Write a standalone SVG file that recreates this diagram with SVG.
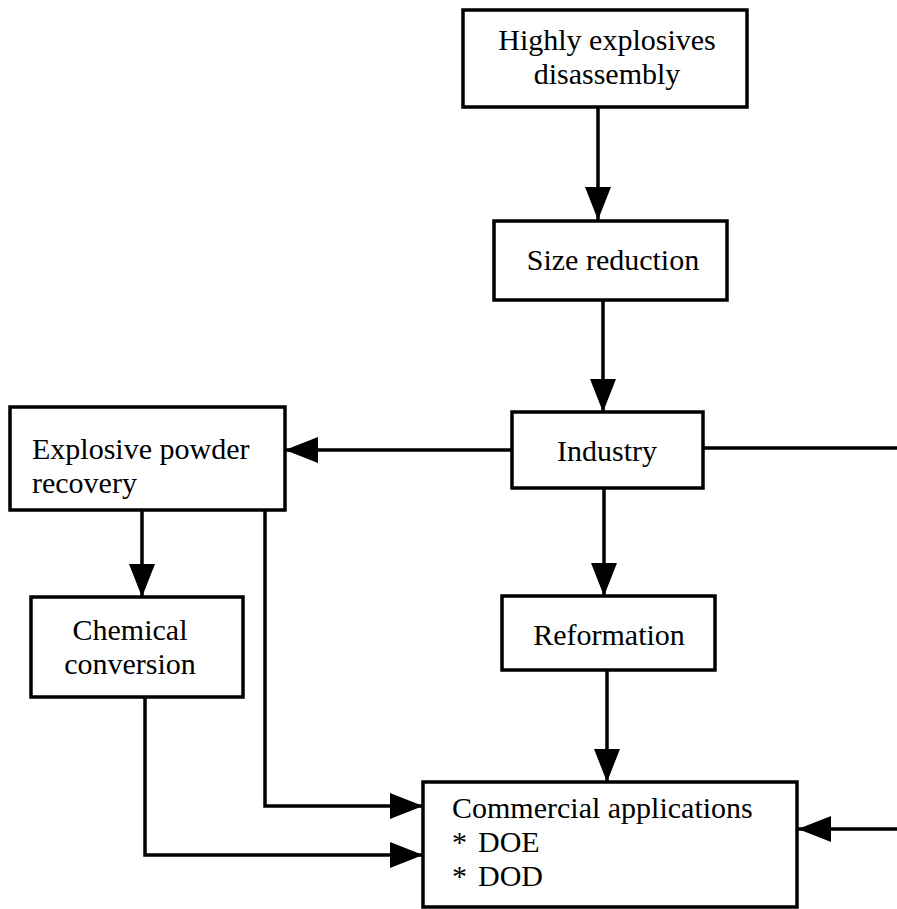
<svg xmlns="http://www.w3.org/2000/svg" width="897" height="909" viewBox="0 0 897 909">
<style>
.box{fill:#fff;stroke:#000;stroke-width:3.5}
.t{font-family:"Liberation Serif","Times New Roman",serif;font-size:30px;fill:#000}
.c{text-anchor:middle}
.ln{fill:none;stroke:#000;stroke-width:3.5}
</style>
<defs>
<marker id="ah" markerUnits="userSpaceOnUse" markerWidth="34" markerHeight="26" refX="33" refY="13" orient="auto">
<path d="M0,0 L33,13 L0,26 z" fill="#000"/>
</marker>
</defs>
<rect width="897" height="909" fill="#fff"/>
<g id="connectors">
<line class="ln" x1="598" y1="107" x2="598" y2="220" marker-end="url(#ah)"/>
<line class="ln" x1="603" y1="300" x2="603" y2="412" marker-end="url(#ah)"/>
<line class="ln" x1="512" y1="450" x2="285" y2="450" marker-end="url(#ah)"/>
<line class="ln" x1="703" y1="448" x2="897" y2="448"/>
<line class="ln" x1="897" y1="829" x2="798" y2="829" marker-end="url(#ah)"/>
<line class="ln" x1="604" y1="488" x2="604" y2="596" marker-end="url(#ah)"/>
<line class="ln" x1="142" y1="510" x2="142" y2="597" marker-end="url(#ah)"/>
<polyline class="ln" points="265,510 265,806 423,806" marker-end="url(#ah)"/>
<polyline class="ln" points="145,697 145,855 423,855" marker-end="url(#ah)"/>
<line class="ln" x1="607" y1="670" x2="607" y2="782" marker-end="url(#ah)"/>
</g>
<g id="n-disassembly">
<rect class="box" x="463" y="10" width="284" height="97"/>
<text class="t c" x="607" y="50">Highly explosives</text>
<text class="t c" x="607" y="84">disassembly</text>
</g>
<g id="n-size">
<rect class="box" x="494" y="221" width="233" height="79"/>
<text class="t c" x="613" y="270">Size reduction</text>
</g>
<g id="n-industry">
<rect class="box" x="512" y="412" width="191" height="76"/>
<text class="t c" x="607" y="461">Industry</text>
</g>
<g id="n-powder">
<rect class="box" x="10" y="407" width="275" height="103"/>
<text class="t" x="32" y="459">Explosive powder</text>
<text class="t" x="32" y="493">recovery</text>
</g>
<g id="n-chemical">
<rect class="box" x="31" y="597" width="212" height="100"/>
<text class="t c" x="130" y="640">Chemical</text>
<text class="t c" x="130" y="674">conversion</text>
</g>
<g id="n-reformation">
<rect class="box" x="502" y="596" width="213" height="74"/>
<text class="t c" x="609" y="645">Reformation</text>
</g>
<g id="n-commercial">
<rect class="box" x="423" y="782" width="374" height="125"/>
<text class="t" x="452" y="818">Commercial applications</text>
<text class="t" x="452" y="852">*</text>
<text class="t" x="478" y="852">DOE</text>
<text class="t" x="452" y="886">*</text>
<text class="t" x="478" y="886">DOD</text>
</g>
</svg>
